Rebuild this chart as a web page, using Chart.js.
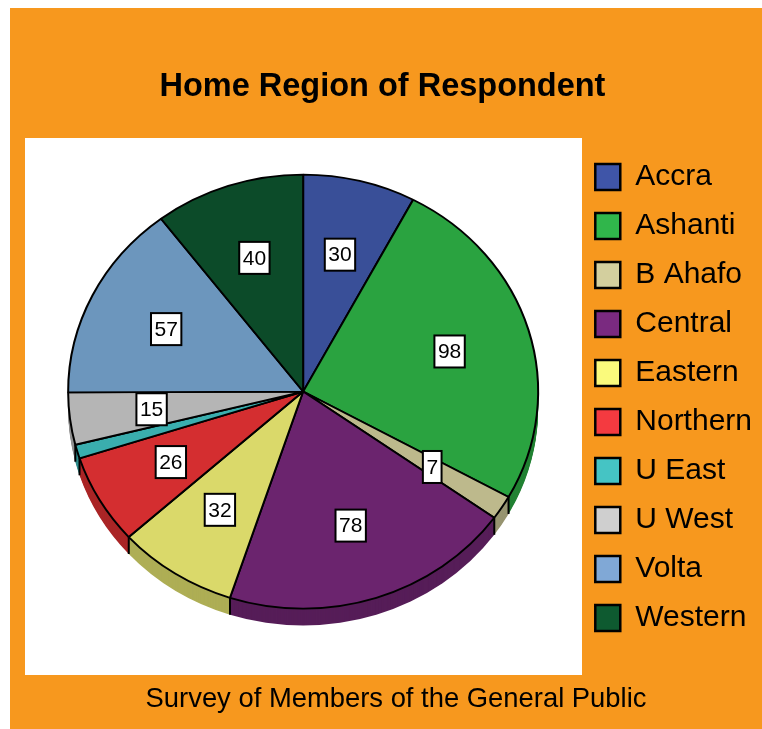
<!DOCTYPE html>
<html>
<head>
<meta charset="utf-8">
<script src="https://cdn.jsdelivr.net/npm/chart.js@4.4.1/dist/chart.umd.min.js"></script>
<style>
  html, body { margin: 0; padding: 0; background: #ffffff; }
  #wrap { width: 762px; height: 729px; }
</style>
</head>
<body>
<div id="wrap"><canvas id="regionChart" width="762" height="729"></canvas></div>
<script>
const regions = ['Accra', 'Ashanti', 'B Ahafo', 'Central', 'Eastern', 'Northern', 'U East', 'U West', 'Volta', 'Western'];
const respondents = [30, 98, 7, 78, 32, 26, 4, 15, 57, 40];

// slice tops, and the slightly brighter legend swatches
const sliceColors = ['#394f98', '#2aa340', '#bdb98c', '#6b246e', '#dad96a', '#d42e30', '#3aaeae', '#b5b5b5', '#6c96bd', '#0c4b29'];
const legendColors = ['#3f55a8', '#30b64b', '#d3cf9e', '#7a2a80', '#fafa7c', '#f43a40', '#45c4c4', '#cfcfcf', '#80a8d6', '#0e5a30'];

const squash = 217 / 235;
const depth = 17;

function darken(hex, f) {
  const n = parseInt(hex.slice(1), 16);
  const r = Math.round(((n >> 16) & 255) * f);
  const g = Math.round(((n >> 8) & 255) * f);
  const b = Math.round((n & 255) * f);
  return `rgb(${r},${g},${b})`;
}

const backdrop = {
  id: 'backdrop',
  beforeDraw(chart) {
    const ctx = chart.ctx;
    ctx.save();
    ctx.fillStyle = '#f7981e';
    ctx.fillRect(10, 8, chart.width - 10, chart.height - 8);
    ctx.fillStyle = '#ffffff';
    ctx.fillRect(25, 138, 557, 537);
    ctx.restore();
  }
};

// tilt the pie into an ellipse and give it a side wall
const tilt = {
  id: 'tilt',
  beforeDatasetsDraw(chart) {
    const ctx = chart.ctx;
    const arcs = chart.getDatasetMeta(0).data;
    const cx = arcs[0].x, cy = arcs[0].y;

    for (let d = depth; d >= 1; d--) {
      ctx.save();
      ctx.translate(cx, cy + d);
      ctx.scale(1, squash);
      ctx.translate(-cx, -cy);
      arcs.forEach((arc, i) => {
        const p = arc.getProps(['x', 'y', 'startAngle', 'endAngle', 'outerRadius']);
        ctx.beginPath();
        ctx.moveTo(p.x, p.y);
        ctx.arc(p.x, p.y, p.outerRadius, p.startAngle, p.endAngle);
        ctx.closePath();
        ctx.fillStyle = darken(sliceColors[i], 0.8);
        ctx.fill();
      });
      ctx.restore();
    }

    // edges of the wall where slices meet at the front
    ctx.save();
    ctx.strokeStyle = '#000';
    ctx.lineWidth = 2;
    arcs.forEach(arc => {
      const p = arc.getProps(['x', 'y', 'startAngle', 'outerRadius']);
      const s = Math.sin(p.startAngle);
      if (s > 0.05) {
        const x = p.x + p.outerRadius * Math.cos(p.startAngle);
        const y = p.y + p.outerRadius * s * squash;
        ctx.beginPath();
        ctx.moveTo(x, y);
        ctx.lineTo(x, y + depth);
        ctx.stroke();
      }
    });
    ctx.restore();

    ctx.save();
    ctx.translate(cx, cy);
    ctx.scale(1, squash);
    ctx.translate(-cx, -cy);
  },
  afterDatasetsDraw(chart) {
    const ctx = chart.ctx;
    ctx.restore();

    // value boxes
    const arcs = chart.getDatasetMeta(0).data;
    const values = chart.data.datasets[0].data;
    ctx.save();
    ctx.font = '21px "Liberation Sans", Arial, sans-serif';
    ctx.textAlign = 'center';
    ctx.textBaseline = 'middle';
    arcs.forEach((arc, i) => {
      if (values[i] < 6) return;
      const p = arc.getProps(['x', 'y', 'startAngle', 'endAngle', 'outerRadius']);
      const mid = (p.startAngle + p.endAngle) / 2;
      const x = p.x + 0.65 * p.outerRadius * Math.cos(mid);
      const y = p.y + 0.65 * p.outerRadius * Math.sin(mid) * squash;
      const text = String(values[i]);
      const w = ctx.measureText(text).width + 7;
      const h = 32;
      ctx.fillStyle = '#ffffff';
      ctx.fillRect(x - w / 2, y - h / 2, w, h);
      ctx.strokeStyle = '#000';
      ctx.lineWidth = 2;
      ctx.strokeRect(x - w / 2, y - h / 2, w, h);
      ctx.fillStyle = '#000';
      ctx.fillText(text, x, y + 1);
    });
    ctx.restore();
  }
};

new Chart(document.getElementById('regionChart'), {
  type: 'pie',
  data: {
    labels: regions,
    datasets: [{
      data: respondents,
      backgroundColor: sliceColors,
      borderColor: '#000000',
      borderWidth: 2
    }]
  },
  plugins: [backdrop, tilt],
  options: {
    responsive: false,
    animation: false,
    radius: 235,
    layout: { padding: { left: 30, top: 8, right: 0, bottom: 0 } },
    plugins: {
      tooltip: { enabled: false },
      title: {
        display: true,
        // trailing spaces nudge the centred title left over the orange panel
        text: 'Home Region of Respondent   ',
        color: '#000',
        font: { family: '"Liberation Sans", Arial, sans-serif', size: 32.5, weight: 'bold' },
        padding: { top: 60, bottom: 31 }
      },
      subtitle: {
        display: true,
        position: 'bottom',
        text: 'Survey of Members of the General Public',
        color: '#000',
        font: { family: '"Liberation Sans", Arial, sans-serif', size: 27.4, weight: 'normal' },
        padding: { top: 38, bottom: 13 }
      },
      legend: {
        position: 'right',
        maxWidth: 186,
        title: { display: true, text: '', font: { size: 1 }, padding: { top: 28.4, bottom: 28.4 } },
        labels: {
          color: '#000',
          font: { family: '"Liberation Sans", Arial, sans-serif', size: 30 },
          boxWidth: 25,
          boxHeight: 26,
          padding: 19,
          generateLabels(chart) {
            const items = Chart.overrides.pie.plugins.legend.labels.generateLabels(chart);
            items.forEach((it, i) => {
              it.fillStyle = legendColors[i];
              it.strokeStyle = '#000';
              it.lineWidth = 2.5;
            });
            return items;
          }
        }
      }
    }
  }
});
</script>
</body>
</html>
